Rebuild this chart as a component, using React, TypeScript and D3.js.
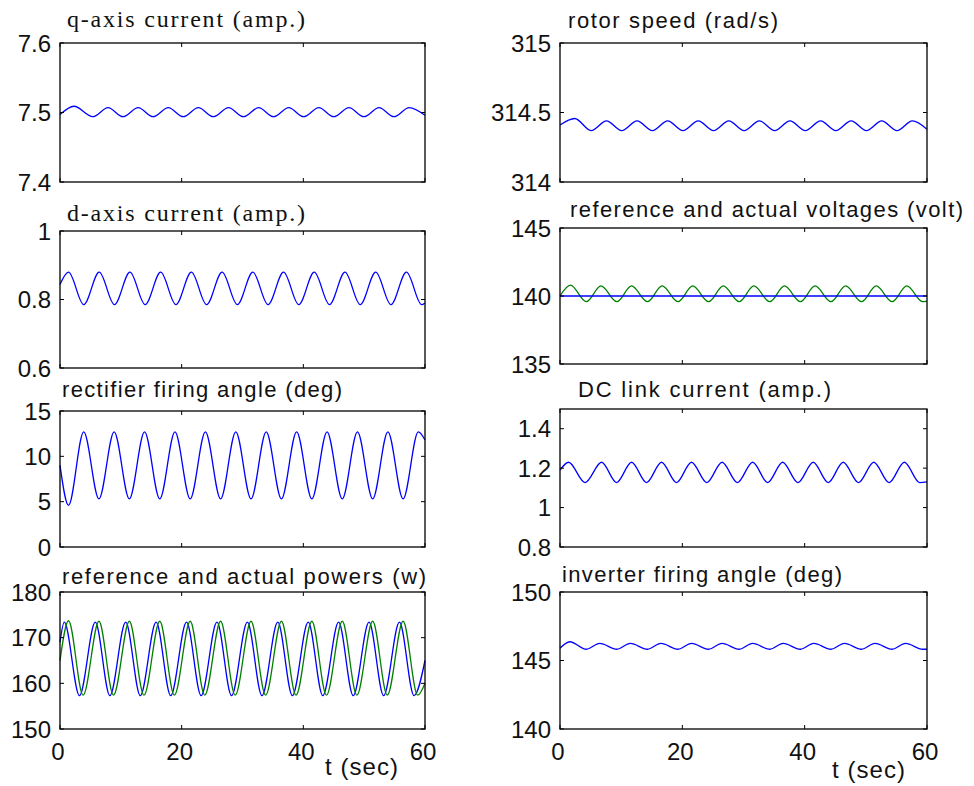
import React from "react";
import * as d3 from "d3";

type Pt = [number, number];

// time axis, seconds
const timeTicks = [0, 20, 40, 60];

// ---- left column ----
const qAxisCurrent: Pt[] = [
  [0, 7.497], [2.3, 7.509], [5.4, 7.494], [7.9, 7.507], [10.35, 7.494], [12.85, 7.507], [15.3, 7.494],
  [17.8, 7.507], [20.25, 7.494], [22.75, 7.507], [25.2, 7.494], [27.7, 7.507], [30.15, 7.494],
  [32.65, 7.507], [35.1, 7.494], [37.6, 7.507], [40.05, 7.494], [42.55, 7.507], [45.0, 7.494],
  [47.5, 7.507], [49.95, 7.494], [52.45, 7.507], [54.9, 7.494], [57.4, 7.507], [60, 7.496],
];
const qTicks = [7.4, 7.5, 7.6];

const dAxisCurrent: Pt[] = [
  [0, 0.844], [1.4, 0.88], [3.9, 0.785], [6.45, 0.88], [8.95, 0.785], [11.5, 0.88], [14.0, 0.785],
  [16.55, 0.88], [19.05, 0.785], [21.6, 0.88], [24.1, 0.785], [26.65, 0.88], [29.15, 0.785],
  [31.7, 0.88], [34.2, 0.785], [36.75, 0.88], [39.25, 0.785], [41.8, 0.88], [44.3, 0.785],
  [46.85, 0.88], [49.35, 0.785], [51.9, 0.88], [54.4, 0.785], [56.95, 0.88], [59.45, 0.785], [60, 0.79],
];
const dTicks = [0.6, 0.8, 1];

const rectifierAngle: Pt[] = [
  [0, 9.0], [1.4, 4.6], [3.9, 12.7], [6.4, 5.3], [8.9, 12.7], [11.4, 5.3], [13.9, 12.7], [16.4, 5.3],
  [18.9, 12.7], [21.4, 5.3], [23.9, 12.7], [26.4, 5.3], [28.9, 12.7], [31.4, 5.3], [33.9, 12.7],
  [36.4, 5.3], [38.9, 12.7], [41.4, 5.3], [43.9, 12.7], [46.4, 5.3], [48.9, 12.7], [51.4, 5.3],
  [53.9, 12.7], [56.4, 5.3], [58.9, 12.7], [60, 11.8],
];
const rectTicks = [0, 5, 10, 15];

const powerRef: Pt[] = [
  [0, 169], [0.7, 173.4], [3.2, 157.3], [5.8, 173.4], [8.2, 157.3], [10.8, 173.4], [13.2, 157.3],
  [15.8, 173.4], [18.2, 157.3], [20.8, 173.4], [23.2, 157.3], [25.8, 173.4], [28.2, 157.3],
  [30.8, 173.4], [33.2, 157.3], [35.8, 173.4], [38.2, 157.3], [40.8, 173.4], [43.2, 157.3],
  [45.8, 173.4], [48.2, 157.3], [50.8, 173.4], [53.2, 157.3], [55.8, 173.4], [58.2, 157.3], [60, 165],
];
const powerAct: Pt[] = [
  [0, 165], [1.4, 173.7], [3.8, 157.4], [6.4, 173.6], [8.8, 157.4], [11.4, 173.6], [13.8, 157.4],
  [16.4, 173.6], [18.8, 157.4], [21.4, 173.6], [23.8, 157.4], [26.4, 173.6], [28.8, 157.4],
  [31.4, 173.6], [33.8, 157.4], [36.4, 173.6], [38.8, 157.4], [41.4, 173.6], [43.8, 157.4],
  [46.4, 173.6], [48.8, 157.4], [51.4, 173.6], [53.8, 157.4], [56.4, 173.6], [58.8, 157.4], [60, 160],
];
const powerTicks = [150, 160, 170, 180];

// ---- right column ----
const rotorSpeed: Pt[] = [
  [0, 314.41], [2.4, 314.457], [5.1, 314.37], [7.6, 314.44], [10.1, 314.37], [12.6, 314.44],
  [15.1, 314.37], [17.6, 314.44], [20.1, 314.37], [22.6, 314.44], [25.1, 314.37], [27.6, 314.44],
  [30.1, 314.37], [32.6, 314.44], [35.1, 314.37], [37.6, 314.44], [40.1, 314.37], [42.6, 314.44],
  [45.1, 314.37], [47.6, 314.44], [50.1, 314.37], [52.6, 314.44], [55.1, 314.37], [57.6, 314.44],
  [60, 314.38],
];
const rotorTicks = [314, 314.5, 315];

const voltRef: Pt[] = [[0, 140], [60, 140]];
const voltAct: Pt[] = [
  [0, 140], [1.7, 140.8], [4.3, 139.58], [6.7, 140.74], [9.3, 139.58], [11.7, 140.74], [14.3, 139.58],
  [16.7, 140.74], [19.3, 139.58], [21.7, 140.74], [24.3, 139.58], [26.7, 140.74], [29.3, 139.58],
  [31.7, 140.74], [34.3, 139.58], [36.7, 140.74], [39.3, 139.58], [41.7, 140.74], [44.3, 139.58],
  [46.7, 140.74], [49.3, 139.58], [51.7, 140.74], [54.3, 139.58], [56.7, 140.74], [59.3, 139.58],
  [60, 139.62],
];
const voltTicks = [135, 140, 145];

const dcCurrent: Pt[] = [
  [0, 1.19], [1.4, 1.23], [4.1, 1.127], [6.8, 1.23], [9.25, 1.127], [11.7, 1.23], [14.15, 1.127],
  [16.6, 1.23], [19.05, 1.127], [21.5, 1.23], [24.0, 1.127], [26.5, 1.23], [29.0, 1.127],
  [31.5, 1.23], [33.95, 1.127], [36.4, 1.23], [38.9, 1.127], [41.4, 1.23], [43.85, 1.127],
  [46.3, 1.23], [48.8, 1.127], [51.3, 1.23], [53.8, 1.127], [56.3, 1.23], [58.8, 1.127], [60, 1.13],
];
const dcTicks = [0.8, 1, 1.2, 1.4];

const inverterAngle: Pt[] = [
  [0, 145.89], [1.6, 146.37], [4.3, 145.82], [6.5, 146.25], [9.3, 145.82], [11.5, 146.25],
  [14.3, 145.82], [16.5, 146.25], [19.3, 145.82], [21.5, 146.25], [24.3, 145.82], [26.5, 146.25],
  [29.3, 145.82], [31.5, 146.25], [34.3, 145.82], [36.5, 146.25], [39.3, 145.82], [41.5, 146.25],
  [44.3, 145.82], [46.5, 146.25], [49.3, 145.82], [51.5, 146.25], [54.3, 145.82], [56.5, 146.25],
  [59.3, 145.82], [60, 145.82],
];
const invTicks = [140, 145, 150];

const BLUE = "#0000ff";
const GREEN = "#008000";
const SANS = "Liberation Sans, Arial, sans-serif";
const SERIF = "Liberation Serif, Times New Roman, Times, serif";

type PanelProps = {
  x0: number; x1: number; y0: number; y1: number;
  domain: [number, number];
  yTicks: number[];
  title: string; tx: number; ty: number; tw: number; serif?: boolean;
  lines: { data: Pt[]; color: string }[];
  xLabels?: boolean;
  xTitle?: [number, number];
};

function Panel(p: PanelProps) {
  const x = d3.scaleLinear().domain([0, 60]).range([p.x0, p.x1]);
  const y = d3.scaleLinear().domain(p.domain).range([p.y1, p.y0]);
  const line = d3.line<Pt>().x(d => x(d[0])).y(d => y(d[1])).curve(d3.curveMonotoneX);
  const tl = 4;
  return (
    <g>
      <text x={p.tx} y={p.ty} textLength={p.tw} lengthAdjust="spacing"
        style={{ fontFamily: p.serif ? SERIF : SANS, fontWeight: 400 }}
        fontSize={p.serif ? 24 : 22} fill="#111">{p.title}</text>
      {p.lines.map((l, i) => (
        <path key={i} d={line(l.data) || ""} fill="none" stroke={l.color} strokeWidth={1.3} />
      ))}
      <rect x={p.x0} y={p.y0} width={p.x1 - p.x0} height={p.y1 - p.y0} fill="none" stroke="#000" strokeWidth={1.3} />
      {p.yTicks.map(t => (
        <g key={"y" + t}>
          <line x1={p.x0} x2={p.x0 + tl} y1={y(t)} y2={y(t)} stroke="#000" />
          <line x1={p.x1} x2={p.x1 - tl} y1={y(t)} y2={y(t)} stroke="#000" />
          <text x={p.x0 - 9} y={y(t)} dy="0.36em" textAnchor="end" fontFamily={SANS} fontSize={24} fill="#111">
            {String(t)}
          </text>
        </g>
      ))}
      {timeTicks.map(t => (
        <g key={"x" + t}>
          <line x1={x(t)} x2={x(t)} y1={p.y1} y2={p.y1 - tl} stroke="#000" />
          <line x1={x(t)} x2={x(t)} y1={p.y0} y2={p.y0 + tl} stroke="#000" />
          {p.xLabels && (
            <text x={x(t) - 2} y={760} textAnchor="middle" fontFamily={SANS} fontSize={24} fill="#111">
              {String(t)}
            </text>
          )}
        </g>
      ))}
      {p.xTitle && (
        <text x={p.xTitle[0]} y={p.xTitle[1]} textLength={73} lengthAdjust="spacing"
          fontFamily={SANS} fontSize={24} fill="#111">t (sec)</text>
      )}
    </g>
  );
}

export default function App() {
  const L = { x0: 60, x1: 425 };
  const R = { x0: 560, x1: 927 };
  return (
    <svg width={974} height={786} style={{ position: "absolute", left: 0, top: 0, background: "#fff" }}>
      <Panel {...L} y0={43} y1={182} domain={[7.4, 7.6]} yTicks={qTicks}
        title="q-axis current (amp.)" tx={67} ty={27} tw={238} serif
        lines={[{ data: qAxisCurrent, color: BLUE }]} />
      <Panel {...L} y0={231} y1={368} domain={[0.6, 1]} yTicks={dTicks}
        title="d-axis current (amp.)" tx={67} ty={221} tw={238} serif
        lines={[{ data: dAxisCurrent, color: BLUE }]} />
      <Panel {...L} y0={411} y1={547} domain={[0, 15]} yTicks={rectTicks}
        title="rectifier firing angle (deg)" tx={62} ty={397} tw={280}
        lines={[{ data: rectifierAngle, color: BLUE }]} />
      <Panel {...L} y0={592} y1={729} domain={[150, 180]} yTicks={powerTicks}
        title="reference and actual powers (w)" tx={62} ty={584} tw={364}
        lines={[{ data: powerRef, color: BLUE }, { data: powerAct, color: GREEN }]}
        xLabels xTitle={[325, 775]} />

      <Panel {...R} y0={43} y1={182} domain={[314, 315]} yTicks={rotorTicks}
        title="rotor speed (rad/s)" tx={568} ty={28} tw={210}
        lines={[{ data: rotorSpeed, color: BLUE }]} />
      <Panel {...R} y0={228} y1={364} domain={[135, 145]} yTicks={voltTicks}
        title="reference and actual voltages (volt)" tx={570} ty={217} tw={393}
        lines={[{ data: voltAct, color: GREEN }, { data: voltRef, color: BLUE }]} />
      <Panel {...R} y0={409} y1={547} domain={[0.8, 1.5]} yTicks={dcTicks}
        title="DC link current (amp.)" tx={578} ty={397} tw={253}
        lines={[{ data: dcCurrent, color: BLUE }]} />
      <Panel {...R} y0={592} y1={729} domain={[140, 150]} yTicks={invTicks}
        title="inverter firing angle (deg)" tx={562} ty={582} tw={280}
        lines={[{ data: inverterAngle, color: BLUE }]}
        xLabels xTitle={[832, 778]} />
    </svg>
  );
}
